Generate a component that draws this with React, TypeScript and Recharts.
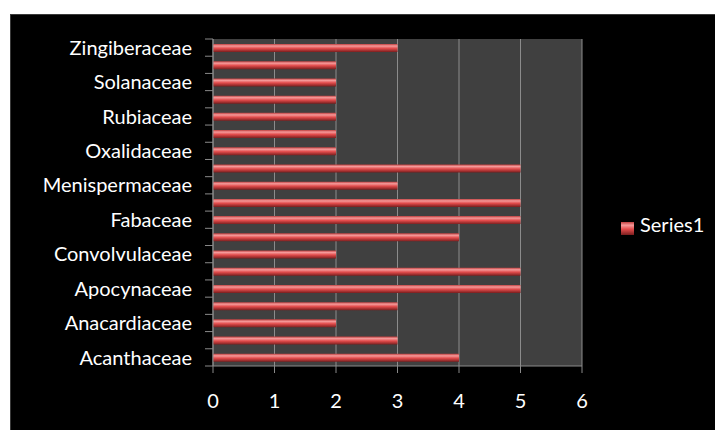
import { BarChart, Bar, XAxis, YAxis, CartesianGrid, Legend } from 'recharts';

// bottom-to-top, as in the source sheet
const families = [
  'Acanthaceae', 'Amaranthaceae', 'Anacardiaceae', 'Annonaceae', 'Apocynaceae',
  'Asteraceae', 'Convolvulaceae', 'Euphorbiaceae', 'Fabaceae', 'Lamiaceae',
  'Menispermaceae', 'Moraceae', 'Oxalidaceae', 'Poaceae', 'Rubiaceae',
  'Rutaceae', 'Solanaceae', 'Verbenaceae', 'Zingiberaceae',
];
const series1 = [4, 3, 2, 3, 5, 5, 2, 4, 5, 5, 3, 5, 2, 2, 2, 2, 2, 2, 3];
const xTicks = [0, 1, 2, 3, 4, 5, 6];

const data = families.map((name, i) => ({ name, Series1: series1[i] }));

const W = 705;
const H = 416;
const legendWidth = 100;
const margin = { top: 24, right: 134 - legendWidth, bottom: 25, left: 0 };
const xAxisHeight = 40;
const yAxisWidth = 202;
const plotHeight = H - margin.top - margin.bottom - xAxisHeight;
const band = plotHeight / families.length;
const font = 'Lato, "Open Sans", sans-serif';

const CategoryTick = ({ x, y, payload, index }: any) => {
  return (
    <g>
      <line x1={x + 13} x2={x + 21} y1={y + band / 2} y2={y + band / 2} stroke="#8a8a8a" />
      {index === families.length - 1 && (
        <line x1={x + 13} x2={x + 21} y1={y - band / 2} y2={y - band / 2} stroke="#8a8a8a" />
      )}
      {index % 2 === 0 && (
        <text x={x} y={y} dy="0.36em" textAnchor="end" fill="#ffffff" fontSize={20} fontFamily={font}>
          {payload.value}
        </text>
      )}
    </g>
  );
};

export default function App() {
  return (
    <div style={{ position: 'fixed', left: 0, top: 0, width: 715, height: 430, background: '#ffffff' }}>
      <div
        style={{
          position: 'absolute',
          left: 10,
          top: 14,
          width: W,
          height: H,
          background: '#000000',
          borderTop: '1px solid #3a3a3a',
          borderLeft: '1px solid #3a3a3a',
          boxSizing: 'border-box',
        }}
      >
        <BarChart width={W} height={H} data={data} layout="vertical" margin={margin} barCategoryGap={0}>
          <defs>
            <linearGradient id="barGrad" x1="0" y1="0" x2="0" y2="1">
              <stop offset="0%" stopColor="#c04040" />
              <stop offset="25%" stopColor="#f59a9a" />
              <stop offset="55%" stopColor="#e24c4c" />
              <stop offset="100%" stopColor="#7a1e1e" />
            </linearGradient>
          </defs>
          <CartesianGrid horizontal={false} stroke="#8c8c8c" fill="#404040" />
          <XAxis
            type="number"
            domain={[0, 6]}
            ticks={xTicks}
            height={xAxisHeight}
            stroke="#8a8a8a"
            tickSize={7}
            tickMargin={21}
            tick={{ fill: '#ffffff', fontSize: 20, fontFamily: font }}
          />
          <YAxis
            type="category"
            dataKey="name"
            reversed
            width={yAxisWidth}
            interval={0}
            stroke="#8a8a8a"
            tickLine={false}
            tickSize={6}
            tickMargin={15}
            tick={<CategoryTick />}
          />
          <Legend
            layout="vertical"
            align="right"
            verticalAlign="top"
            iconType="square"
            iconSize={13}
            wrapperStyle={{ left: 610, top: 197, width: legendWidth }}
            formatter={(value: string) => (
              <span style={{ color: '#ffffff', fontSize: 20, fontFamily: font, marginLeft: 2 }}>{value}</span>
            )}
          />
          <Bar dataKey="Series1" fill="url(#barGrad)" barSize={8} isAnimationActive={false} />
        </BarChart>
      </div>
    </div>
  );
}
